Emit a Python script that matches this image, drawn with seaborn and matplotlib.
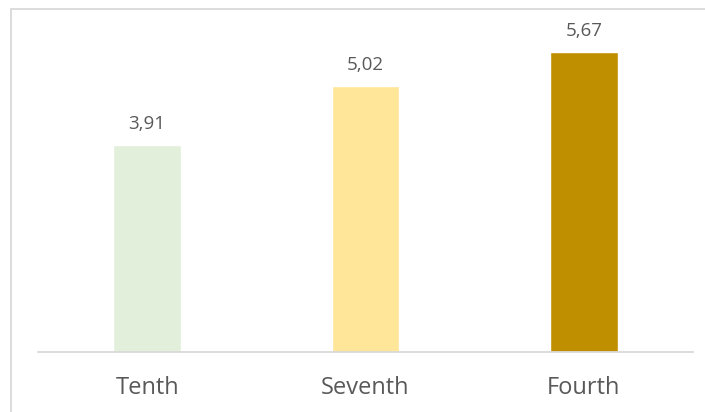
import matplotlib
matplotlib.use("Agg")
import matplotlib.pyplot as plt
import seaborn as sns
import pandas as pd
from matplotlib.patches import Rectangle

categories = ["Tenth", "Seventh", "Fourth"]
values = [3.91, 5.02, 5.67]
value_labels = ["3,91", "5,02", "5,67"]
colors = ["#E2EFDA", "#FFE699", "#BF8F00"]

sns.set_style("white")
plt.rcParams['font.family'] = ['Open Sans', 'DejaVu Sans']

W, H = 705, 412
fig = plt.figure(figsize=(W / 100, H / 100), dpi=100)
ax_left, ax_right, ax_bottom_px, ax_top_px = 38, 693, 352, 18
ax = fig.add_axes([ax_left / W, (H - ax_bottom_px) / H,
                   (ax_right - ax_left) / W, (ax_bottom_px - ax_top_px) / H])

df = pd.DataFrame({"cat": categories, "val": values})
sns.barplot(data=df, x="cat", y="val", hue="cat", palette=colors,
            width=0.31, legend=False, ax=ax, saturation=1)

ax.set_xlim(-0.5, 2.5)
ax.set_ylim(0, (ax_bottom_px - ax_top_px) / 52.9)
ax.set_xlabel("")
ax.set_ylabel("")
ax.set_yticks([])
for s in ["top", "left", "right"]:
    ax.spines[s].set_visible(False)
ax.spines["bottom"].set_color("#D9D9D9")
ax.spines["bottom"].set_linewidth(1.3)
ax.tick_params(axis="x", length=0, pad=17, labelsize=17, labelcolor="#595959")

for i, (v, lab) in enumerate(zip(values, value_labels)):
    ax.annotate(lab, (i, v), xytext=(0, 9), textcoords="offset points",
                ha="center", va="bottom", fontsize=13.5, color="#595959")

# outer chart border (cropped at right/bottom)
fig.patches.append(Rectangle((10.5 / W, -0.1), 1.2, (H - 8.5) / H + 0.1,
                             transform=fig.transFigure, fill=False,
                             edgecolor="#D9D9D9", linewidth=1.3))

fig.savefig("out.png", dpi=100, facecolor="white")
